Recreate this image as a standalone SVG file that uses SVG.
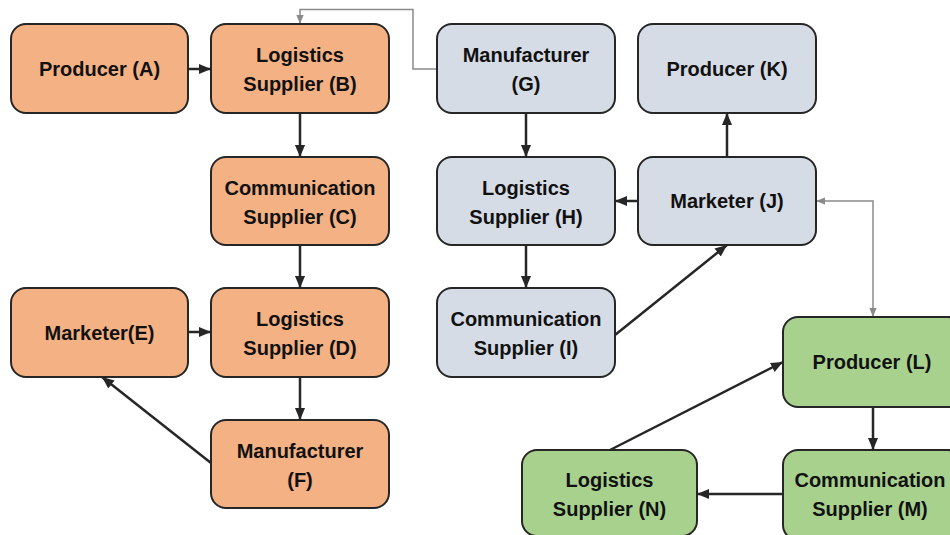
<svg xmlns="http://www.w3.org/2000/svg" width="950" height="535" viewBox="0 0 950 535">
<style>
.box{stroke:#262626;stroke-width:2}
.o{fill:#F4B183}
.b{fill:#D6DCE5}
.g{fill:#A9D18E}
text{font-family:"Liberation Sans",Arial,sans-serif;font-weight:bold;font-size:20px;fill:#111;text-anchor:middle}
.c{stroke:#262626;stroke-width:2.5;fill:none;marker-end:url(#ah)}
.gr{stroke:#8a8a8a;stroke-width:1.5;fill:none}
</style>
<defs>
<marker id="ah" markerUnits="userSpaceOnUse" markerWidth="12" markerHeight="12" viewBox="0 0 10 10" refX="10" refY="5" orient="auto">
<path d="M0,0.8 L10,5 L0,9.2 Z" fill="#262626"/>
</marker>
<marker id="gh" markerUnits="userSpaceOnUse" markerWidth="9" markerHeight="9" viewBox="0 0 10 10" refX="10" refY="5" orient="auto-start-reverse">
<path d="M0,1 L10,5 L0,9 Z" fill="#8a8a8a"/>
</marker>
</defs>
<rect width="950" height="535" fill="#fff"/>
<g id="connectors">
<path class="c" d="M188,69 L211,69"/>
<path class="c" d="M300,113 L300,157"/>
<path class="c" d="M300,245 L300,288"/>
<path class="c" d="M188,332 L211,332"/>
<path class="c" d="M300,377 L300,420"/>
<path class="c" d="M211,463 L102,377"/>
<path class="c" d="M526,113 L526,157"/>
<path class="c" d="M526,245 L526,288"/>
<path class="c" d="M638,201 L615,201"/>
<path class="c" d="M727,157 L727,113"/>
<path class="c" d="M615,335 L727,245"/>
<path class="c" d="M610,450 L783,362"/>
<path class="c" d="M873,407 L873,450"/>
<path class="c" d="M783,494 L697,494"/>
<path class="gr" d="M437,69 L413,69 L413,9.5 L300,9.5 L300,24" marker-end="url(#gh)"/>
<path class="gr" d="M816,201 L873,201 L873,317" marker-start="url(#gh)" marker-end="url(#gh)"/>
</g>
<g id="nodeA"><rect class="box o" x="11" y="24" width="177" height="89" rx="15"/><text x="99.5" y="76">Producer (A)</text></g>
<g id="nodeB"><rect class="box o" x="211" y="24" width="178" height="89" rx="15"/><text x="300" y="62">Logistics</text><text x="300" y="91">Supplier (B)</text></g>
<g id="nodeC"><rect class="box o" x="211" y="157" width="178" height="88" rx="15"/><text x="300" y="195">Communication</text><text x="300" y="224">Supplier (C)</text></g>
<g id="nodeD"><rect class="box o" x="211" y="288" width="178" height="89" rx="15"/><text x="300" y="326">Logistics</text><text x="300" y="355">Supplier (D)</text></g>
<g id="nodeE"><rect class="box o" x="11" y="288" width="177" height="89" rx="15"/><text x="99.5" y="340">Marketer(E)</text></g>
<g id="nodeF"><rect class="box o" x="211" y="420" width="178" height="88" rx="15"/><text x="300" y="458">Manufacturer</text><text x="300" y="487">(F)</text></g>
<g id="nodeG"><rect class="box b" x="437" y="24" width="178" height="89" rx="15"/><text x="526" y="62">Manufacturer</text><text x="526" y="91">(G)</text></g>
<g id="nodeK"><rect class="box b" x="638" y="24" width="178" height="89" rx="15"/><text x="727" y="76">Producer (K)</text></g>
<g id="nodeH"><rect class="box b" x="437" y="157" width="178" height="88" rx="15"/><text x="526" y="195">Logistics</text><text x="526" y="224">Supplier (H)</text></g>
<g id="nodeJ"><rect class="box b" x="638" y="157" width="178" height="88" rx="15"/><text x="727" y="208">Marketer (J)</text></g>
<g id="nodeI"><rect class="box b" x="437" y="288" width="178" height="89" rx="15"/><text x="526" y="326">Communication</text><text x="526" y="355">Supplier (I)</text></g>
<g id="nodeL"><rect class="box g" x="783" y="317" width="180" height="90" rx="15"/><text x="872" y="369">Producer (L)</text></g>
<g id="nodeM"><rect class="box g" x="783" y="450" width="180" height="90" rx="15"/><text x="870" y="487">Communication</text><text x="870" y="516">Supplier (M)</text></g>
<g id="nodeN"><rect class="box g" x="522" y="450" width="175" height="86" rx="15"/><text x="609.5" y="487">Logistics</text><text x="609.5" y="516">Supplier (N)</text></g>
</svg>
